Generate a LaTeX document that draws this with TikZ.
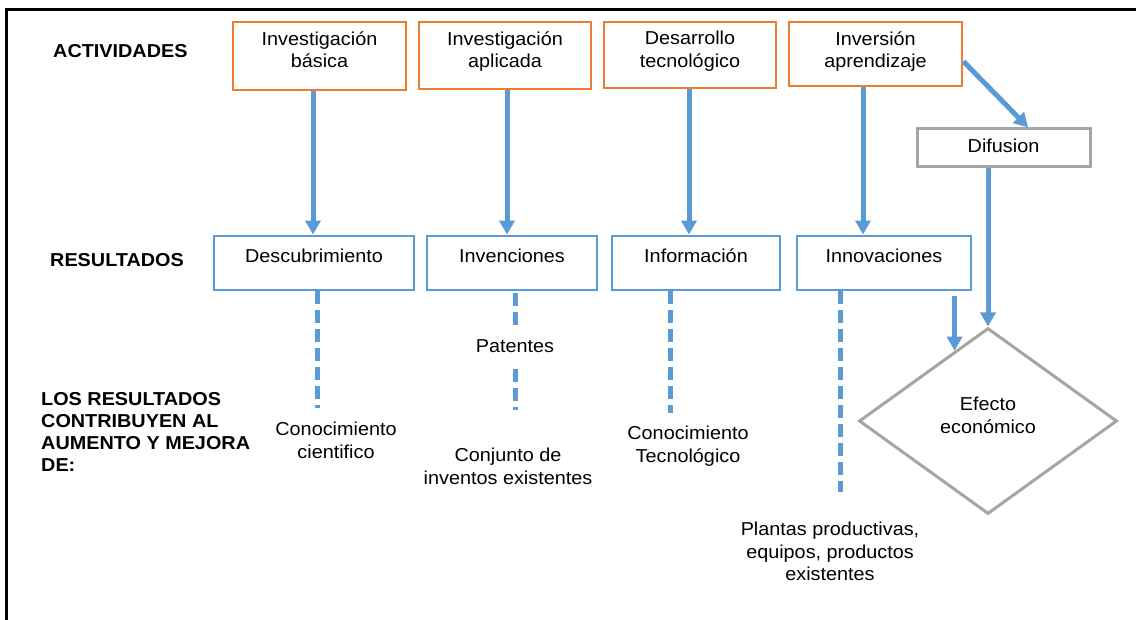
\documentclass[tikz,border=0pt]{standalone}
\usepackage{fontspec}
\setmainfont{Liberation Sans}[FakeStretch=1.06]
\usetikzlibrary{arrows.meta,shapes.geometric,calc}

\definecolor{actorange}{HTML}{ED7D31}
\definecolor{resblue}{HTML}{5B9BD5}
\definecolor{difgray}{HTML}{A5A5A5}

\tikzset{
  actbox/.style={draw=actorange, line width=2.8pt, inner sep=0pt},
  resbox/.style={draw=resblue, line width=2.8pt, inner sep=0pt},
  graybox/.style={draw=difgray, line width=3pt, inner sep=0pt},
  flow/.style={draw=resblue, line width=5pt, -{Triangle[width=15pt,length=14pt]}},
  dashlink/.style={draw=resblue, line width=5pt, dash pattern=on 13pt off 6pt},
  body/.style={font=\fontsize{18.7}{22.8}\selectfont, align=center, inner sep=0pt},
  heading/.style={font=\bfseries\fontsize{18.7}{21.7}\selectfont, align=left, inner sep=0pt},
}

\begin{document}
\begin{tikzpicture}[x=1pt,y=-1pt]
\useasboundingbox (0,0) rectangle (1136,620);

% outer frame (top and left edges)
\draw[line width=2.5pt] (6.5,620) -- (6.5,9.5) -- (1136,9.5);

% row headings
\node[heading, anchor=base west] (hact) at (53,58) {ACTIVIDADES};
\node[heading, anchor=base west] (hres) at (50,267) {RESULTADOS};
\node[heading, anchor=west] (hcon) at (41,432) {LOS RESULTADOS\\CONTRIBUYEN AL\\AUMENTO Y MEJORA\\DE:};

% activities
\node[actbox, minimum width=173pt, minimum height=68pt] (a1) at (319.5,56) {};
\node[actbox, minimum width=172pt, minimum height=67pt] (a2) at (505,55.5) {};
\node[actbox, minimum width=172pt, minimum height=66pt] (a3) at (690,55) {};
\node[actbox, minimum width=173pt, minimum height=64pt] (a4) at (875.5,54) {};
\node[body] (a1t) at (319.5,49.8) {Investigación\\básica};
\node[body] (a2t) at (505,51.5) {Investigación\\aplicada};
\node[body] (a3t) at (690,51.5) {Desarrollo\\tecnológico};
\node[body] (a4t) at (875.5,51.5) {Inversión\\aprendizaje};

% results
\node[resbox, minimum width=200pt, minimum height=54pt] (r1) at (314,263) {};
\node[resbox, minimum width=170pt, minimum height=54pt] (r2) at (512,263) {};
\node[resbox, minimum width=168pt, minimum height=54pt] (r3) at (696,263) {};
\node[resbox, minimum width=174pt, minimum height=54pt] (r4) at (884,263) {};
\node[body, anchor=base] (r1t) at (314,263) {Descubrimiento};
\node[body, anchor=base] (r2t) at (512,263) {Invenciones};
\node[body, anchor=base] (r3t) at (696,263) {Información};
\node[body, anchor=base] (r4t) at (884,263) {Innovaciones};

% diffusion and economic effect
\node[graybox, minimum width=173pt, minimum height=38pt] (dif) at (1003.5,148) {};
\node[body, anchor=base] (dift) at (1003.5,153) {Difusion};
\node[diamond, draw=difgray, line width=3pt, minimum width=258pt, minimum height=186pt, inner sep=0pt] (eco) at (988,421) {};
\node[body] (ecot) at (988,415) {Efecto\\económico};

% activity -> result arrows
\coordinate (x1) at (313,0);
\coordinate (x2) at (507,0);
\coordinate (x3) at (689,0);
\coordinate (x4) at (863,0);
\draw[flow] (x1 |- a1.south) -- (x1 |- r1.north);
\draw[flow] (x2 |- a2.south) -- (x2 |- r2.north);
\draw[flow] (x3 |- a3.south) -- (x3 |- r3.north);
\draw[flow] (x4 |- a4.south) -- (x4 |- r4.north);

% investment -> diffusion -> economic effect
\draw[flow] ($(a4.north east)!0.61!(a4.south east)$) -- ($(dif.north west)!0.64!(dif.north east)$);
\draw[flow] (eco.north |- dif.south) -- (eco.north);
\coordinate (ein) at ($(eco.north)!0.256!(eco.west)$);
\draw[flow] ($(ein |- r4.south)+(0,5)$) -- (ein);

% contributions (dashed links and their labels)
\node[body] (k1) at (336,440.5) {Conocimiento\\cientifico};
\node[body, anchor=base] (pat) at (515,353) {Patentes};
\node[body] (k2) at (508,466.5) {Conjunto de\\inventos existentes};
\node[body] (k3) at (688,446) {Conocimiento\\Tecnológico};
\node[body] (k4) at (830,551.5) {Plantas productivas,\\equipos, productos\\existentes};

\coordinate (d1) at (317,408);
\coordinate (d2) at (515,410);
\coordinate (d3) at (670,413);
\coordinate (d4) at (840,492);
\coordinate (p1) at (515,326);
\coordinate (p2) at (515,369);
\draw[dashlink] ($(p1 |- r2.south)+(0,2)$) -- (p1);
\draw[dashlink] (p2) -- (d2);
\draw[dashlink] (d1 |- r1.south) -- (d1);
\draw[dashlink] (d3 |- r3.south) -- (d3);
\draw[dashlink] (d4 |- r4.south) -- (d4);
\end{tikzpicture}
\end{document}
